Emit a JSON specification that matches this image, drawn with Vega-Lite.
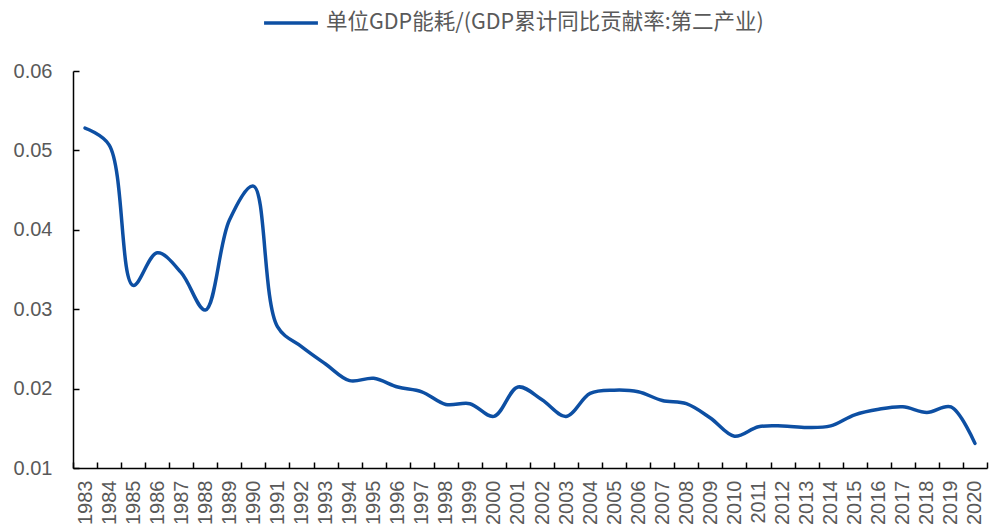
{
  "$schema": "https://vega.github.io/schema/vega-lite/v6.json",
  "width": 914,
  "height": 397,
  "autosize": {"type": "none"},
  "padding": {"left": 73, "top": 71, "right": 5, "bottom": 59},
  "background": "white",
  "config": {
    "view": {"stroke": null},
    "font": "Liberation Sans"
  },
  "data": {
    "values": [
      {"year": "1983", "value": 0.0528, "series": "单位GDP能耗/(GDP累计同比贡献率:第二产业)"},
      {"year": "1984", "value": 0.0507, "series": "单位GDP能耗/(GDP累计同比贡献率:第二产业)"},
      {"year": "1985", "value": 0.0330, "series": "单位GDP能耗/(GDP累计同比贡献率:第二产业)"},
      {"year": "1986", "value": 0.0371, "series": "单位GDP能耗/(GDP累计同比贡献率:第二产业)"},
      {"year": "1987", "value": 0.0346, "series": "单位GDP能耗/(GDP累计同比贡献率:第二产业)"},
      {"year": "1988", "value": 0.0299, "series": "单位GDP能耗/(GDP累计同比贡献率:第二产业)"},
      {"year": "1989", "value": 0.0412, "series": "单位GDP能耗/(GDP累计同比贡献率:第二产业)"},
      {"year": "1990", "value": 0.0455, "series": "单位GDP能耗/(GDP累计同比贡献率:第二产业)"},
      {"year": "1991", "value": 0.0278, "series": "单位GDP能耗/(GDP累计同比贡献率:第二产业)"},
      {"year": "1992", "value": 0.0253, "series": "单位GDP能耗/(GDP累计同比贡献率:第二产业)"},
      {"year": "1993", "value": 0.0231, "series": "单位GDP能耗/(GDP累计同比贡献率:第二产业)"},
      {"year": "1994", "value": 0.0210, "series": "单位GDP能耗/(GDP累计同比贡献率:第二产业)"},
      {"year": "1995", "value": 0.0213, "series": "单位GDP能耗/(GDP累计同比贡献率:第二产业)"},
      {"year": "1996", "value": 0.0202, "series": "单位GDP能耗/(GDP累计同比贡献率:第二产业)"},
      {"year": "1997", "value": 0.0196, "series": "单位GDP能耗/(GDP累计同比贡献率:第二产业)"},
      {"year": "1998", "value": 0.0180, "series": "单位GDP能耗/(GDP累计同比贡献率:第二产业)"},
      {"year": "1999", "value": 0.0181, "series": "单位GDP能耗/(GDP累计同比贡献率:第二产业)"},
      {"year": "2000", "value": 0.0165, "series": "单位GDP能耗/(GDP累计同比贡献率:第二产业)"},
      {"year": "2001", "value": 0.0202, "series": "单位GDP能耗/(GDP累计同比贡献率:第二产业)"},
      {"year": "2002", "value": 0.0186, "series": "单位GDP能耗/(GDP累计同比贡献率:第二产业)"},
      {"year": "2003", "value": 0.0165, "series": "单位GDP能耗/(GDP累计同比贡献率:第二产业)"},
      {"year": "2004", "value": 0.0194, "series": "单位GDP能耗/(GDP累计同比贡献率:第二产业)"},
      {"year": "2005", "value": 0.0198, "series": "单位GDP能耗/(GDP累计同比贡献率:第二产业)"},
      {"year": "2006", "value": 0.0196, "series": "单位GDP能耗/(GDP累计同比贡献率:第二产业)"},
      {"year": "2007", "value": 0.0185, "series": "单位GDP能耗/(GDP累计同比贡献率:第二产业)"},
      {"year": "2008", "value": 0.0181, "series": "单位GDP能耗/(GDP累计同比贡献率:第二产业)"},
      {"year": "2009", "value": 0.0163, "series": "单位GDP能耗/(GDP累计同比贡献率:第二产业)"},
      {"year": "2010", "value": 0.0140, "series": "单位GDP能耗/(GDP累计同比贡献率:第二产业)"},
      {"year": "2011", "value": 0.0152, "series": "单位GDP能耗/(GDP累计同比贡献率:第二产业)"},
      {"year": "2012", "value": 0.0153, "series": "单位GDP能耗/(GDP累计同比贡献率:第二产业)"},
      {"year": "2013", "value": 0.0151, "series": "单位GDP能耗/(GDP累计同比贡献率:第二产业)"},
      {"year": "2014", "value": 0.0153, "series": "单位GDP能耗/(GDP累计同比贡献率:第二产业)"},
      {"year": "2015", "value": 0.0167, "series": "单位GDP能耗/(GDP累计同比贡献率:第二产业)"},
      {"year": "2016", "value": 0.0174, "series": "单位GDP能耗/(GDP累计同比贡献率:第二产业)"},
      {"year": "2017", "value": 0.0177, "series": "单位GDP能耗/(GDP累计同比贡献率:第二产业)"},
      {"year": "2018", "value": 0.0170, "series": "单位GDP能耗/(GDP累计同比贡献率:第二产业)"},
      {"year": "2019", "value": 0.0177, "series": "单位GDP能耗/(GDP累计同比贡献率:第二产业)"},
      {"year": "2020", "value": 0.0131, "series": "单位GDP能耗/(GDP累计同比贡献率:第二产业)"}
    ]
  },
  "mark": {"type": "line", "interpolate": "catmull-rom", "strokeWidth": 3.5, "strokeCap": "round", "strokeJoin": "round"},
  "encoding": {
    "x": {
      "field": "year",
      "type": "ordinal",
      "scale": {"type": "band", "paddingInner": 0, "paddingOuter": 0},
      "axis": {
        "title": null,
        "labelAngle": -90,
        "labelAlign": "right",
        "labelBaseline": "middle",
        "labelFont": "Liberation Sans",
        "labelFontSize": 20,
        "labelColor": "#595959",
        "labelPadding": 18,
        "labelOverlap": false,
        "domainColor": "#000000",
        "domainWidth": 1.5,
        "tickColor": "#000000",
        "tickWidth": 1.5,
        "tickSize": -6,
        "tickBand": "extent",
        "grid": false
      }
    },
    "y": {
      "field": "value",
      "type": "quantitative",
      "scale": {"domain": [0.01, 0.06], "nice": false, "zero": false},
      "axis": {
        "title": null,
        "values": [0.01, 0.02, 0.03, 0.04, 0.05, 0.06],
        "format": ".2f",
        "labelFont": "Liberation Sans",
        "labelFontSize": 20,
        "labelColor": "#595959",
        "labelPadding": 27,
        "domainColor": "#000000",
        "domainWidth": 1.5,
        "tickColor": "#000000",
        "tickWidth": 1.5,
        "tickSize": -6,
        "grid": false
      }
    },
    "color": {
      "field": "series",
      "type": "nominal",
      "scale": {"range": ["#0D4FA3"]},
      "legend": {
        "title": null,
        "orient": "none",
        "legendX": 189,
        "legendY": -77,
        "symbolType": "stroke",
        "symbolSize": 2900,
        "symbolStrokeWidth": 3.5,
        "labelFont": "Noto Sans CJK SC",
        "labelFontSize": 21.5,
        "labelColor": "#595959",
        "labelOffset": 6,
        "labelLimit": 700
      }
    }
  }
}
